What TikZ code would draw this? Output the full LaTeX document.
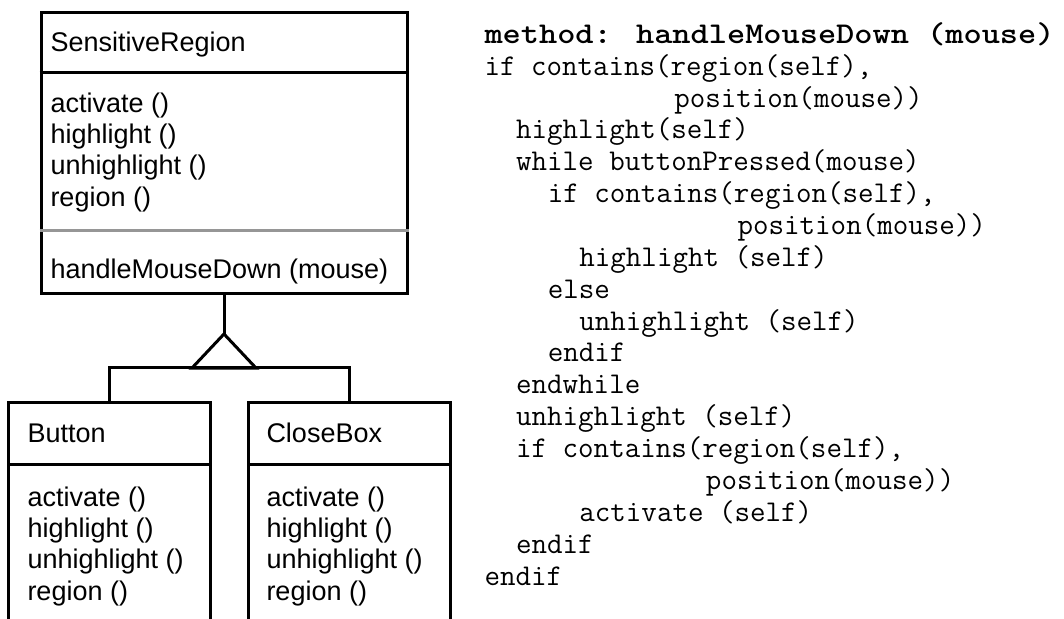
\documentclass[tikz,border=0pt]{standalone}
\usepackage{fontspec}
\usepackage{graphicx}
\setmainfont{Liberation Sans}
\definecolor{sepgray}{RGB}{150,150,150}
\newcommand\codeind[1]{\hspace*{\fpeval{0.525*#1}em}}
\tikzset{every picture/.style={line width=0.75pt}}
\tikzset{
	classbox/.style={draw, line width=2.25pt, inner sep=0pt},
	classline/.style={line width=2.25pt},
	sepline/.style={line width=2.25pt, draw=sepgray},
	classtext/.style={anchor=base west, inner sep=0pt, align=left, font=\fontsize{20.25}{23.5}\selectfont},
	codetext/.style={anchor=base west, inner sep=0pt, align=left, font=\fontsize{22.6}{23.9}\selectfont\ttfamily}}

\begin{document}
\begin{tikzpicture}[x=0.75pt,y=0.75pt,yscale=-1,xscale=1]
	\useasboundingbox (0,0) rectangle (1064,618);

	%Shape: Rectangle
	\node[classbox, minimum width=274.5pt, minimum height=210.75pt] (sr) at (224,152.5) {};
	%Straight Lines
	\draw[classline] (sr.west |- 0,72) -- (sr.east |- 0,72);
	%Straight Lines
	\draw[sepline] (sr.west |- 0,230) -- (sr.east |- 0,230);

	%Shape: Rectangle
	\node[inner sep=0pt, minimum width=150.75pt, minimum height=166.5pt] (button) at (109.5,514) {};
	\draw[classline] (button.south west) |- (button.north east) -- (button.south east);
	%Straight Lines
	\draw[classline] (button.west |- 0,464) -- (button.east |- 0,464);

	%Shape: Rectangle
	\node[inner sep=0pt, minimum width=150.75pt, minimum height=166.5pt] (closebox) at (349.5,514) {};
	\draw[classline] (closebox.south west) |- (closebox.north east) -- (closebox.south east);
	%Straight Lines
	\draw[classline] (closebox.west |- 0,464) -- (closebox.east |- 0,464);

	%Straight Lines
	\coordinate (apex) at (sr.south |- 0,334);
	\draw[classline] (sr.south) -- (apex);
	%Shape: Triangle
	\draw[classline] (apex) -- ++(-32,34) -- ++(64,0) -- cycle;
	%Straight Lines
	\draw[classline] (button.north) -- ++(0,-35) -| (closebox.north);

	% Text Node
	\node[classtext] (srname) at (50,51) {SensitiveRegion};
	% Text Node
	\node[classtext] (srops) at (50,206) {activate ()\\highlight ()\\unhighlight ()\\region ()};
	% Text Node
	\node[classtext] (srhandler) at (50,278) {handleMouseDown (mouse)};
	% Text Node
	\node[classtext] (buttonname) at (27,442) {Button};
	% Text Node
	\node[classtext] (buttonops) at (27,600) {activate ()\\highlight ()\\unhighlight ()\\region ()};
	% Text Node
	\node[classtext] (closeboxname) at (266,442) {CloseBox};
	% Text Node
	\node[classtext] (closeboxops) at (266,600) {activate ()\\highlight ()\\unhighlight ()\\region ()};

	% Text Node
	\node[codetext] (code) at (484,585) {\scalebox{1.15}[1]{\bfseries method: handleMouseDown (mouse)}\\
		if contains(region(self),\\
		\codeind{12}position(mouse))\\
		\codeind{2}highlight(self)\\
		\codeind{2}while buttonPressed(mouse)\\
		\codeind{4}if contains(region(self),\\
		\codeind{16}position(mouse))\\
		\codeind{6}highlight (self)\\
		\codeind{4}else\\
		\codeind{6}unhighlight (self)\\
		\codeind{4}endif\\
		\codeind{2}endwhile\\
		\codeind{2}unhighlight (self)\\
		\codeind{2}if contains(region(self),\\
		\codeind{14}position(mouse))\\
		\codeind{6}activate (self)\\
		\codeind{2}endif\\
		endif};

\end{tikzpicture}
\end{document}
